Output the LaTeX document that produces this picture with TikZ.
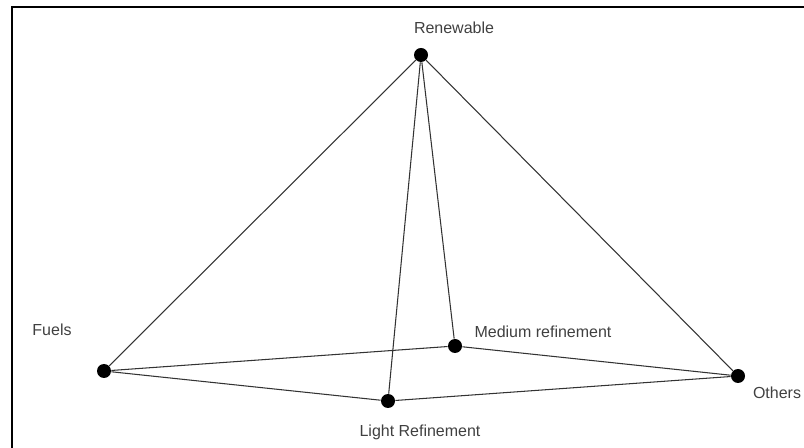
\documentclass[tikz,border=0pt]{standalone}
\usepackage{fontspec}
\setmainfont{Liberation Sans}

\begin{document}
\begin{tikzpicture}[x=0.02cm,y=-0.02cm,
    dot/.style={circle,fill=black,inner sep=0pt,minimum size=0.28cm},
    lbl/.style={text=black!75,font=\fontsize{9.1}{10}\selectfont,inner sep=0pt},
    edge/.style={draw=black!80,line width=0.6pt}]
        \useasboundingbox (0,0) rectangle (804,448);
        \draw[line width=1.2pt] (12,448) -- (12,7) -- (804,7);
        % corners of the pyramid
        \node[dot] (ren) at (421,55) {};
        \node[dot] (fue) at (104,371) {};
        \node[dot] (med) at (455,346) {};
        \node[dot] (lig) at (388,401) {};
        \node[dot] (oth) at (738,376) {};
        \node[lbl] (renl) at (454,28) {Renewable};
        \node[lbl] (fuel) at (52,330) {Fuels};
        \node[lbl] (medl) at (543,332) {Medium refinement};
        \node[lbl] (ligl) at (420,432) {Light Refinement};
        \node[lbl] (othl) at (777,393) {Others};
        % \draw (ren) -- (fue);
        \draw[edge] (ren) -- (fue) (ren) -- (lig) (ren) -- (med) (ren) -- (oth);
        \draw[edge] (fue) -- (med) -- (oth) -- (lig) -- (fue);
      \end{tikzpicture}
\end{document}
